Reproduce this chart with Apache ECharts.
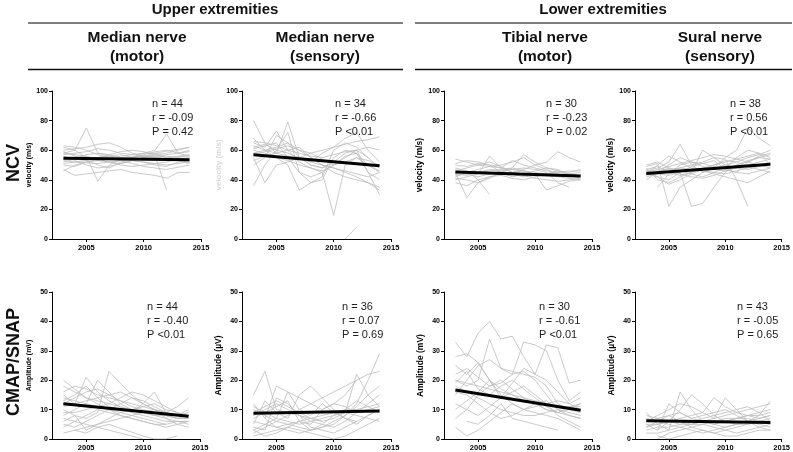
<!DOCTYPE html>
<html><head><meta charset="utf-8">
<script src="https://cdn.jsdelivr.net/npm/echarts@6/dist/echarts.min.js"></script>
<style>html,body{margin:0;padding:0;background:#fff}#c{width:793px;height:452px}</style>
</head><body><div id="c"></div>
<script>
// ---- data ----
const years = [2003,2004,2005,2006,2007,2008,2009,2010,2011,2012,2013,2014];
const groupTitles = ['Upper extremities','Lower extremities'];
const panelTitles = ['Median nerve\n(motor)','Median nerve\n(sensory)','Tibial nerve\n(motor)','Sural nerve\n(sensory)'];
const rowTitles = ['NCV','CMAP/SNAP'];
const yNames = ['velocity (m/s)','velocity (m/s)','velocity (m/s)','velocity (m/s)','Amplitude (mV)','Amplitude (\u00b5V)','Amplitude (mV)','Amplitude (\u00b5V)'];
const statsN = ['n = 44','n = 34','n = 30','n = 38','n = 44','n = 36','n = 30','n = 43'];
const statsR = ['r = -0.09','r = -0.66','r = -0.23','r = 0.56','r = -0.40','r = 0.07','r = -0.61','r = -0.05'];
const statsP = ['P = 0.42','P <0.01','P = 0.02','P <0.01','P <0.01','P = 0.69','P <0.01','P = 0.65'];
const trendStart = [54.5, 57.0, 45.3, 44.3, 12.0, 8.8, 16.7, 6.2];
const trendEnd   = [53.5, 49.5, 42.5, 50.5, 7.7, 9.5, 9.8, 5.6];
const xTicks = [2005, 2010, 2015];

const medianMotorNCV = [
[62,60,75,58,57,55,null,56,58,null,null,62],
[58,57,56,39,50,54,55,56,57,55,null,56],
[55,54,53,55,56,57,55,58,60,71,58,59],
[47,43,44,45,46,47,45,44,43,41,45,45],
[53,52,null,51,52,53,54,55,56,33,null,null],
[60,61,62,64,65,62,58,56,55,54,53,52],
[50,49,52,54,56,55,53,52,50,49,52,53],
[57,58,59,61,60,58,57,56,55,57,58,60],
[54,55,56,54,52,50,49,50,51,52,54,55],
[46,50,52,53,54,56,57,58,58,56,55,54],
[59,56,54,55,57,59,60,59,57,55,56,57],
[56,53,50,48,49,51,53,55,56,54,53,51],
[63,62,60,57,55,54,53,52,51,50,51,52],
[52,54,57,58,56,53,51,49,48,47,null,50],
[58,60,55,53,52,51,53,55,57,58,60,62],
[51,52,53,50,48,52,55,57,59,60,null,56]];
const medianSensNCV = [
[80,65,58,79,55,50,48,52,null,null,null,null],
[36,50,60,72,45,38,40,55,60,58,45,40],
[65,62,73,60,52,48,45,16,50,55,50,45],
[60,58,55,50,33,38,42,60,65,62,55,48],
[58,60,62,65,60,55,50,48,45,42,38,33],
[62,64,60,58,55,52,58,62,68,72,60,52],
[55,38,50,52,55,58,60,62,64,66,67,69],
[68,60,55,53,50,48,46,50,55,60,55,null],
[50,55,70,65,55,50,48,52,58,60,45,30],
[63,60,58,56,54,52,50,48,46,44,42,45],
[57,59,61,63,60,58,54,50,52,55,53,50],
[61,null,65,55,45,42,45,50,56,58,50,46],
[53,56,58,60,62,55,50,45,42,40,38,35],
[66,65,63,60,58,56,55,57,59,60,62,60],
[null,null,null,null,null,null,null,null,0,8,null,null]];
const tibialNCV = [
[54,52,50,49,48,47,46,45,44,43,42,42],
[45,28,38,42,44,45,46,44,43,42,41,40],
[40,42,44,56,48,45,47,50,52,59,55,52],
[48,46,40,30,null,null,null,null,null,null,null,null],
[50,49,51,50,48,53,50,48,46,45,44,43],
[43,44,45,46,47,48,57,52,48,46,44,45],
[38,36,40,42,43,41,40,42,44,46,45,47],
[46,48,50,52,49,45,43,41,40,39,40,41],
[42,45,47,49,50,52,55,50,47,44,42,43],
[47,44,42,44,46,47,48,47,45,38,35,null],
[44,43,45,47,46,44,42,43,44,45,46,46],
[51,53,52,50,45,42,44,46,48,47,43,41],
[41,40,38,41,45,48,46,44,33,36,39,40]];
const suralNCV = [
[49,51,22,35,40,45,48,50,52,55,57,60],
[46,48,52,64,50,45,48,55,60,75,68,63],
[44,42,40,45,22,24,35,45,50,52,55,54],
[45,46,47,48,50,52,55,54,40,22,null,null],
[48,40,38,42,45,48,50,52,54,56,58,55],
[40,45,50,55,52,49,47,46,48,50,52,54],
[47,49,45,43,45,60,55,50,48,47,49,51],
[42,44,46,48,47,46,45,44,46,48,50,52],
[50,52,48,46,44,42,45,48,55,60,58,50],
[null,35,44,50,52,51,49,47,45,44,46,48],
[45,47,49,51,53,55,57,56,54,52,50,48],
[43,45,48,44,42,41,43,46,50,53,55,57],
[47,42,37,40,44,47,50,53,52,49,47,45],
[44,50,56,52,48,46,44,42,40,38,42,46],
[46,44,43,45,49,51,53,47,45,52,56,58]];
const medianCMAP = [
[20,17,14,13,12,11,10,9,8,8,7,7],
[15,12,21,16,13,11,9,8,7,6,6,6],
[10,8,7,9,23,19,15,12,10,8,7,8],
[5,4,6,8,10,12,14,13,11,9,8,10],
[12,14,16,17,15,13,11,10,9,8,7,7],
[2,3,4,5,7,9,10,11,12,10,9,8],
[8,10,12,20,16,12,10,9,8,7,6,5],
[14,13,12,11,10,9,8,7,6,5,6,6],
[18,16,14,12,10,8,7,6,5,5,null,null],
[7,6,5,4,3,2,1,0,null,null,null,null],
[11,12,13,14,15,16,14,12,10,9,11,14],
[16,18,17,15,14,13,12,11,10,9,8,9],
[9,9,10,11,12,14,16,15,13,11,9,7],
[4,6,8,10,9,8,7,6,5,4,5,6],
[13,15,18,14,11,10,9,12,16,9,8,8],
[6,8,3,5,6,7,8,9,10,7,5,4],
[null,3,2,4,5,null,null,1,0,0,1,null]];
const medianSNAP = [
[15,23,10,9,8,7,6,null,null,null,null,null],
[3,5,7,16,14,12,10,12,15,20,22,23],
[10,8,6,5,4,3,4,5,8,12,20,29],
[5,13,9,7,15,18,14,10,7,5,8,10],
[2,4,6,8,10,12,14,16,18,20,null,null],
[8,10,12,10,8,6,5,4,6,9,12,15],
[12,7,4,3,2,3,4,6,8,11,15,18],
[6,5,4,5,6,7,8,9,10,10,11,12],
[4,3,14,12,8,4,3,2,4,6,8,10],
[9,11,13,11,9,7,6,7,9,22,15,11],
[1,2,3,4,3,2,1,0,1,3,5,7],
[11,9,7,6,5,6,7,8,9,8,7,6],
[7,9,11,13,6,5,10,12,11,9,10,11],
[3,1,2,4,6,3,5,8,10,13,11,9],
[null,7,18,16,10,8,12,9,7,6,null,null]];
const tibialCMAP = [
[33,28,36,40,34,35,28,22,32,31,19,20],
[20,18,20,34,24,22,33,32,30,20,13,16],
[28,29,26,20,14,19,24,22,20,16,12,10],
[15,20,25,27,24,23,22,21,18,12,10,9],
[22,24,21,18,19,22,23,20,15,10,8,7],
[7,10,15,18,20,17,14,12,10,9,11,12],
[18,16,14,12,10,9,8,8,9,10,11,11],
[12,10,8,11,14,16,18,15,12,8,6,4],
[4,1,3,6,9,12,10,9,8,7,5,3],
[25,22,26,20,15,12,10,11,12,13,12,14],
[16,15,12,9,7,8,10,12,13,10,9,8],
[19,23,17,15,18,20,17,14,11,9,8,7],
[10,13,16,20,17,15,13,12,10,9,10,12],
[null,6,5,8,12,7,6,5,4,3,null,null],
[20,19,18,17,16,15,14,13,12,11,10,10]];
const suralSNAP = [
[9,5,3,16,10,6,5,6,7,8,9,10],
[null,3,6,10,15,12,8,6,5,5,6,7],
[4,5,6,7,8,9,14,11,9,8,7,8],
[6,7,8,9,7,6,5,4,5,6,8,13],
[2,2,3,4,5,6,7,8,9,10,11,12],
[7,6,5,4,3,2,3,4,5,6,7,8],
[5,3,12,9,7,8,9,10,8,6,5,4],
[8,7,6,5,6,7,8,9,10,11,9,6],
[3,4,4,5,5,6,6,7,7,8,8,9],
[null,0,2,3,4,5,4,3,2,3,4,5],
[6,8,10,12,11,9,7,14,10,6,4,3],
[4,6,8,6,4,3,2,3,4,5,6,6],
[5,5,6,6,5,5,6,6,7,7,6,6],
[null,1,0,1,2,3,2,1,1,2,3,3]];

const panels = [medianMotorNCV, medianSensNCV, tibialNCV, suralNCV, medianCMAP, medianSNAP, tibialCMAP, suralSNAP];

// ---- layout ----
const gridPos = [
 {left:52, top:91, width:149, height:148},
 {left:242, top:91, width:149, height:148},
 {left:444, top:91, width:148, height:148},
 {left:635, top:91, width:148, height:148},
 {left:52, top:292, width:148, height:149},
 {left:242, top:292, width:149, height:149},
 {left:444, top:292, width:148, height:149},
 {left:635, top:292, width:148, height:149}];
const statPos = [[152,98],[335,98],[546,98],[730,98],[147,301],[342,301],[539,301],[737,301]];
const nameSize = [7,8,8.5,8.5,7,8.5,8.5,8.5];
const nameColor = ['#000','#d8d8d8','#000','#000','#000','#000','#000','#000'];

const grid=[], xAxis=[], yAxis=[], series=[], graphic=[];
const FONT = '"Liberation Sans", Arial, sans-serif';
panels.forEach((lines, i) => {
  const top = i < 4;
  grid.push(Object.assign({containLabel:false}, gridPos[i]));
  xAxis.push({type:'value', gridIndex:i, min:2002, max:2015,
    axisLine:{show:true, lineStyle:{color:'#000', width:1}},
    axisTick:{show:true, customValues:xTicks, length:3, lineStyle:{color:'#000'}},
    axisLabel:{customValues:xTicks, formatter:v => String(v), fontSize:7.5, fontWeight:'bold', color:'#000', margin:5, fontFamily:FONT},
    splitLine:{show:false}});
  yAxis.push({type:'value', gridIndex:i, min:0, max: top?100:50, interval: top?20:10,
    name:yNames[i], nameLocation:'middle', nameGap:19,
    nameTextStyle:{fontSize:nameSize[i], fontWeight:'bold', color:nameColor[i], fontFamily:FONT},
    axisLine:{show:true, lineStyle:{color:'#000', width:1}},
    axisTick:{show:true, length:3, lineStyle:{color:'#000'}},
    axisLabel:{fontSize:7, fontWeight:'bold', color:'#000', margin:4, fontFamily:FONT},
    splitLine:{show:false}});
  lines.forEach(vals => {
    const d = [];
    vals.forEach((v, k) => { if (v !== null) d.push([years[k], v]); });
    series.push({type:'line', xAxisIndex:i, yAxisIndex:i, data:d, symbol:'none', silent:true,
      lineStyle:{color:'#bdbdbd', width:0.8}, clip:true, z:2});
  });
  series.push({type:'line', xAxisIndex:i, yAxisIndex:i, symbol:'none', silent:true,
    data:[[years[0], trendStart[i]], [years[years.length-1], trendEnd[i]]],
    lineStyle:{color:'#000', width:3}, z:5});
  [statsN[i], statsR[i], statsP[i]].forEach((t, k) => {
    graphic.push({type:'text', x:statPos[i][0], y:statPos[i][1] + k*14, z:10,
      style:{text:t, fontSize:11, fill:'#222', fontFamily:FONT, textVerticalAlign:'top'}});
  });
});

// headers
const gCenters = [215, 603];
const gLines = [[28,403],[415,792]];
groupTitles.forEach((t, g) => {
  graphic.push({type:'text', x:gCenters[g], y:10, style:{text:t, fontSize:15, fontWeight:'bold', fill:'#111', fontFamily:FONT, textAlign:'center', textVerticalAlign:'middle'}});
  graphic.push({type:'line', shape:{x1:gLines[g][0], y1:23, x2:gLines[g][1], y2:23}, style:{stroke:'#555', lineWidth:1.5}});
  graphic.push({type:'line', shape:{x1:gLines[g][0], y1:69.5, x2:gLines[g][1], y2:69.5}, style:{stroke:'#111', lineWidth:1.5}});
});
const pCenters = [137, 325, 545, 720];
panelTitles.forEach((t, k) => {
  graphic.push({type:'text', x:pCenters[k], y:47.5, style:{text:t, fontSize:15.5, fontWeight:'bold', fill:'#111', fontFamily:FONT, textAlign:'center', textVerticalAlign:'middle', lineHeight:19}});
});
const rCenters = [163, 362];
rowTitles.forEach((t, k) => {
  graphic.push({type:'text', x:14, y:rCenters[k], rotation:Math.PI/2, style:{text:t, fontSize:18, fontWeight:'bold', fill:'#111', fontFamily:FONT, textAlign:'center', textVerticalAlign:'middle'}});
});

const chart = echarts.init(document.getElementById('c'), null, {renderer:'canvas'});
chart.setOption({animation:false, backgroundColor:'#fff', grid, xAxis, yAxis, series, graphic});
</script></body></html>
